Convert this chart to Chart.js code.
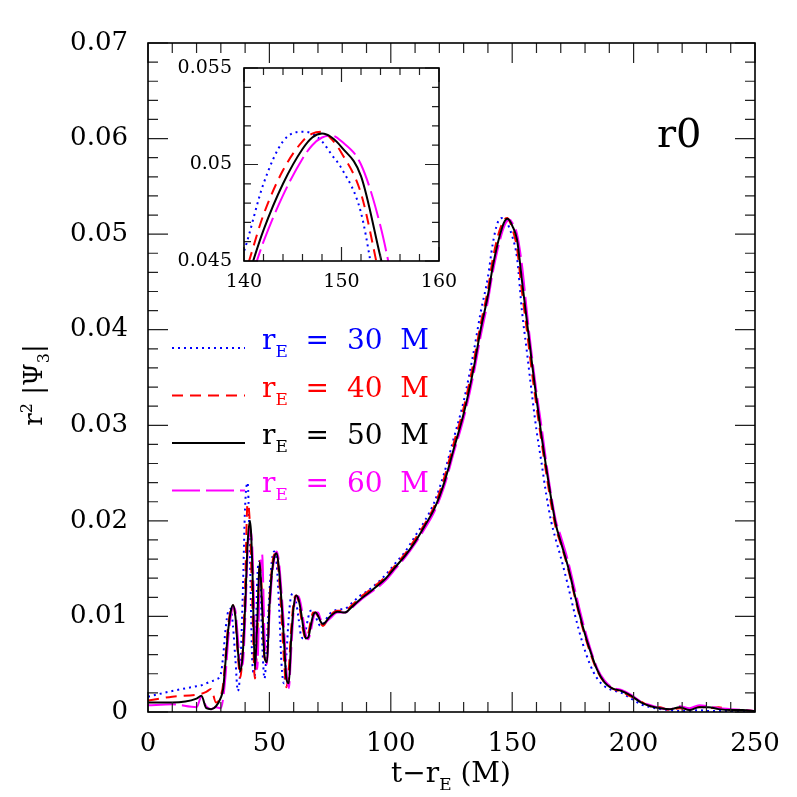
<!DOCTYPE html>
<html>
<head>
<meta charset="utf-8">
<script src="https://cdn.jsdelivr.net/npm/chart.js@4.4.1/dist/chart.umd.min.js"></script>
<style>
  body { margin: 0; background: #fff; }
  #wrap { position: relative; width: 797px; height: 797px; }
  #wrap canvas, #wrap svg { position: absolute; left: 0; top: 0; }
  svg text { font-family: "DejaVu Serif", serif; white-space: pre; }
</style>
</head>
<body>
<div id="wrap">
  <canvas id="mainChart" width="797" height="797"></canvas>
  <canvas id="insetChart" width="797" height="797"></canvas>
  <svg id="labels" width="797" height="797"></svg>
</div>
<script>
// time after extraction, t - r_E (M)
const tGrid = [0, 10, 20, 22, 24, 26, 28, 30,
  31, 32, 33, 34, 35, 36, 37, 38, 39, 40,
  41, 42, 43, 44, 45, 46, 47, 48, 49, 50,
  51, 52, 53, 54, 55, 56, 57, 58, 59, 60,
  61, 62, 63, 64, 65, 66, 67, 68, 69, 70,
  71, 72, 75, 78, 81, 84, 87, 90, 94, 98,
  102, 106, 110, 114, 118, 122, 126, 130, 134, 137,
  140, 142, 144, 146, 147, 148, 149, 150, 152, 154,
  156, 158, 160, 162, 164, 166, 168, 170, 173, 176,
  179, 182, 185, 188, 191, 195, 199, 203, 207, 211,
  215, 219, 223, 227, 231, 235, 240, 245, 250];

// r^2 |Psi_3| for each extraction radius
const psi30 = [0.0016, 0.0022, 0.0027, 0.0028, 0.0030, 0.0032, 0.0034, 0.0040,
  0.0060, 0.0088, 0.0105, 0.0108, 0.0090, 0.0055, 0.0022, 0.0045, 0.0120, 0.0215,
  0.0240, 0.0160, 0.0050, 0.0038, 0.0140, 0.0158, 0.0075, 0.0035, 0.0075, 0.0125,
  0.0158, 0.0168, 0.0155, 0.0110, 0.0050, 0.0030, 0.0060, 0.0100, 0.0122, 0.0124,
  0.0115, 0.0098, 0.0080, 0.0077, 0.0086, 0.0099, 0.0106, 0.0106, 0.0100, 0.0094,
  0.0090, 0.0092, 0.0103, 0.0107, 0.0108, 0.0114, 0.0121, 0.0126, 0.0134, 0.0144,
  0.0156, 0.0168, 0.0184, 0.0200, 0.0220, 0.0250, 0.0287, 0.0325, 0.0375, 0.0418,
  0.0455, 0.0490, 0.0512, 0.0517, 0.0516, 0.0512, 0.0505, 0.0498, 0.0475, 0.0420,
  0.0378, 0.0335, 0.0295, 0.0262, 0.0228, 0.0200, 0.0180, 0.0162, 0.0132, 0.0100,
  0.0072, 0.0050, 0.0035, 0.0027, 0.0023, 0.0020, 0.0014, 0.0008, 0.0005, 0.0003,
  0.0002, 0.0001, 0.0001, 0.0002, 0.0001, 0.0001, 0.0001, 0.0001, 0.0001];

const psi40 = [0.0012, 0.0016, 0.0018, 0.0019, 0.0021, 0.0024, 0.0010, 0.0017,
  0.0030, 0.0060, 0.0090, 0.0106, 0.0112, 0.0098, 0.0060, 0.0036, 0.0065, 0.0130,
  0.0218, 0.0195, 0.0110, 0.0035, 0.0075, 0.0158, 0.0120, 0.0055, 0.0055, 0.0115,
  0.0150, 0.0165, 0.0165, 0.0140, 0.0100, 0.0055, 0.0026, 0.0045, 0.0088, 0.0115,
  0.0122, 0.0116, 0.0100, 0.0084, 0.0077, 0.0082, 0.0095, 0.0104, 0.0104, 0.0100,
  0.0094, 0.0090, 0.0101, 0.0106, 0.0106, 0.0112, 0.0119, 0.0125, 0.0133, 0.0142,
  0.0154, 0.0166, 0.0181, 0.0197, 0.0216, 0.0245, 0.0282, 0.0318, 0.0365, 0.0406,
  0.0442, 0.0474, 0.0497, 0.0512, 0.0516, 0.0517, 0.0513, 0.0506, 0.0485, 0.0440,
  0.0400, 0.0358, 0.0320, 0.0284, 0.0250, 0.0218, 0.0192, 0.0176, 0.0150, 0.0118,
  0.0088, 0.0063, 0.0043, 0.0031, 0.0025, 0.0021, 0.0016, 0.0011, 0.0006, 0.0005,
  0.0002, 0.0004, 0.0003, 0.0006, 0.0004, 0.0005, 0.0002, 0.0002, 0.0001];

const psi50 = [0.0010, 0.0010, 0.0014, 0.0017, 0.0004, 0.0003, 0.0006, 0.0015,
  0.0025, 0.0055, 0.0085, 0.0104, 0.0112, 0.0100, 0.0065, 0.0043, 0.0060, 0.0110,
  0.0175, 0.0200, 0.0150, 0.0045, 0.0095, 0.0157, 0.0110, 0.0058, 0.0052, 0.0110,
  0.0145, 0.0162, 0.0166, 0.0148, 0.0115, 0.0075, 0.0035, 0.0030, 0.0078, 0.0110,
  0.0122, 0.0118, 0.0105, 0.0088, 0.0077, 0.0078, 0.0090, 0.0101, 0.0104, 0.0101,
  0.0095, 0.0092, 0.0100, 0.0105, 0.0104, 0.0110, 0.0117, 0.0123, 0.0131, 0.0140,
  0.0152, 0.0164, 0.0178, 0.0195, 0.0213, 0.0240, 0.0276, 0.0312, 0.0358, 0.0400,
  0.0436, 0.0466, 0.0490, 0.0508, 0.0514, 0.0516, 0.0514, 0.0509, 0.0494, 0.0452,
  0.0410, 0.0368, 0.0328, 0.0290, 0.0256, 0.0224, 0.0196, 0.0178, 0.0152, 0.0120,
  0.0090, 0.0065, 0.0044, 0.0031, 0.0025, 0.0022, 0.0017, 0.0010, 0.0006, 0.0004,
  0.0003, 0.0005, 0.0002, 0.0005, 0.0005, 0.0003, 0.0002, 0.0002, 0.0001];

const psi60 = [0.0007, 0.0008, 0.0005, 0.0016, 0.0006, 0.0003, 0.0005, 0.0004,
  0.0015, 0.0040, 0.0075, 0.0098, 0.0110, 0.0106, 0.0078, 0.0048, 0.0050, 0.0095,
  0.0165, 0.0192, 0.0170, 0.0085, 0.0045, 0.0135, 0.0165, 0.0080, 0.0050, 0.0100,
  0.0140, 0.0160, 0.0168, 0.0156, 0.0125, 0.0090, 0.0045, 0.0025, 0.0065, 0.0105,
  0.0120, 0.0121, 0.0112, 0.0096, 0.0081, 0.0076, 0.0084, 0.0097, 0.0104, 0.0104,
  0.0098, 0.0092, 0.0098, 0.0104, 0.0104, 0.0109, 0.0116, 0.0122, 0.0129, 0.0138,
  0.0150, 0.0162, 0.0176, 0.0192, 0.0210, 0.0236, 0.0272, 0.0307, 0.0352, 0.0393,
  0.0430, 0.0460, 0.0484, 0.0503, 0.0510, 0.0514, 0.0515, 0.0512, 0.0500, 0.0468,
  0.0420, 0.0375, 0.0335, 0.0300, 0.0262, 0.0228, 0.0200, 0.0184, 0.0158, 0.0126,
  0.0095, 0.0068, 0.0046, 0.0033, 0.0026, 0.0023, 0.0018, 0.0011, 0.0007, 0.0004,
  0.0003, 0.0006, 0.0004, 0.0007, 0.0006, 0.0004, 0.0003, 0.0002, 0.0001];

const radii = ["30", "40", "50", "60"];
const seriesValues = [psi30, psi40, psi50, psi60];

// tick labels
const xTicksMain = [0, 50, 100, 150, 200, 250];
const yTicksMain = [0, 0.01, 0.02, 0.03, 0.04, 0.05, 0.06, 0.07];
const xTicksInset = [140, 150, 160];
const yTicksInset = [0.045, 0.05, 0.055];

// styles
const colors = ["#0000ff", "#ff0000", "#000000", "#ff00ff"];
const dashes = [[2, 4], [11, 7], [], [28, 6]];
const drawOrder = [3, 2, 0, 1];

Chart.defaults.font.family = "'DejaVu Serif', serif";
Chart.defaults.color = "#000";

// frame with inward ticks on all four sides
const frameTicks = {
    id: "frameTicks",
    afterDatasetsDraw(chart, args, opts) {
        const ctx = chart.ctx;
        const a = chart.chartArea;
        const xs = chart.scales.x, ys = chart.scales.y;
        ctx.save();
        ctx.strokeStyle = "#222";
        ctx.lineWidth = 1.2;
        let n = Math.round((xs.max - xs.min) / opts.xMinor);
        for (let i = 0; i <= n; i++) {
            let v = xs.min + i * opts.xMinor;
            let r = v / opts.xMajor;
            let len = Math.abs(r - Math.round(r)) < 1e-6 ? opts.majorLen : opts.minorLen;
            let px = xs.getPixelForValue(v);
            ctx.beginPath();
            ctx.moveTo(px, a.bottom); ctx.lineTo(px, a.bottom - len);
            ctx.moveTo(px, a.top); ctx.lineTo(px, a.top + len);
            ctx.stroke();
        }
        n = Math.round((ys.max - ys.min) / opts.yMinor);
        for (let i = 0; i <= n; i++) {
            let v = ys.min + i * opts.yMinor;
            let r = v / opts.yMajor;
            let len = Math.abs(r - Math.round(r)) < 1e-6 ? opts.majorLen : opts.minorLen;
            let py = ys.getPixelForValue(v);
            ctx.beginPath();
            ctx.moveTo(a.left, py); ctx.lineTo(a.left + len, py);
            ctx.moveTo(a.right, py); ctx.lineTo(a.right - len, py);
            ctx.stroke();
        }
        ctx.strokeStyle = "#000";
        ctx.lineWidth = 1.6;
        ctx.strokeRect(a.left, a.top, a.right - a.left, a.bottom - a.top);
        ctx.restore();
    }
};

function makeDatasets() {
    return seriesValues.map((vals, k) => ({
        label: "r_E = " + radii[k] + " M",
        data: tGrid.map((t, i) => ({ x: t, y: vals[i] })),
        borderColor: colors[k],
        borderDash: dashes[k],
        borderWidth: 2,
        order: drawOrder[k],
        pointRadius: 0,
        fill: false,
        cubicInterpolationMode: "monotone"
    }));
}

function fmt(digits) {
    return v => String(parseFloat(v.toFixed(digits)));
}

// Main chart
new Chart(document.getElementById("mainChart"), {
    type: "line",
    data: { datasets: makeDatasets() },
    options: {
        responsive: false,
        animation: false,
        layout: { padding: { top: 43, right: 42, left: 0, bottom: 0 } },
        plugins: {
            legend: { display: false },
            tooltip: { enabled: false },
            frameTicks: { xMinor: 10, xMajor: 50, yMinor: 0.002, yMajor: 0.01, minorLen: 10, majorLen: 20 }
        },
        scales: {
            x: {
                type: "linear", min: 0, max: 250,
                afterBuildTicks: s => { s.ticks = xTicksMain.map(v => ({ value: v })); },
                afterFit: s => { s.height = 85; },
                grid: { display: false, drawTicks: false },
                border: { display: false },
                ticks: { font: { size: 26 }, padding: 17, maxRotation: 0, callback: fmt(0) }
            },
            y: {
                type: "linear", min: 0, max: 0.07,
                afterBuildTicks: s => { s.ticks = yTicksMain.map(v => ({ value: v })); },
                afterFit: s => { s.width = 148; },
                grid: { display: false, drawTicks: false },
                border: { display: false },
                ticks: { font: { size: 26 }, padding: 20, callback: fmt(2) }
            }
        }
    },
    plugins: [frameTicks]
});

// Inset: zoom on the peak
new Chart(document.getElementById("insetChart"), {
    type: "line",
    data: { datasets: makeDatasets() },
    options: {
        responsive: false,
        animation: false,
        layout: { padding: { top: 68, right: 358, left: 0, bottom: 0 } },
        plugins: {
            legend: { display: false },
            tooltip: { enabled: false },
            frameTicks: { xMinor: 2, xMajor: 10, yMinor: 0.001, yMajor: 0.005, minorLen: 7, majorLen: 14 }
        },
        scales: {
            x: {
                type: "linear", min: 140, max: 160,
                afterBuildTicks: s => { s.ticks = xTicksInset.map(v => ({ value: v })); },
                afterFit: s => { s.height = 536; },
                grid: { display: false, drawTicks: false },
                border: { display: false },
                ticks: { font: { size: 19 }, padding: 10, maxRotation: 0, callback: fmt(0) }
            },
            y: {
                type: "linear", min: 0.045, max: 0.055,
                afterBuildTicks: s => { s.ticks = yTicksInset.map(v => ({ value: v })); },
                afterFit: s => { s.width = 244; },
                grid: { display: false, drawTicks: false },
                border: { display: false },
                ticks: { font: { size: 19 }, padding: 12, callback: fmt(3) }
            }
        }
    },
    plugins: [frameTicks]
});

// Legend, axis titles and run label
let svg = "";
radii.forEach((r, k) => {
    let y = 348 + k * 47.5;
    svg += `<line x1="172" x2="245" y1="${y}" y2="${y}" stroke="${colors[k]}" stroke-width="2" stroke-dasharray="${dashes[k].join(" ") || "none"}"/>`;
    svg += `<text x="262" y="${y + 1}" font-size="28" fill="${colors[k]}">r<tspan dy="8" font-size="17">E</tspan><tspan dy="-8">  =  ${r}  M</tspan></text>`;
});
svg += `<text x="451" y="782" font-size="28" text-anchor="middle">t\u2212r<tspan dy="8" font-size="17">E</tspan><tspan dy="-8"> (M)</tspan></text>`;
svg += `<text transform="translate(42,385) rotate(-90)" font-size="26" text-anchor="middle">r<tspan dy="-10" font-size="16">2</tspan><tspan dy="10"> |\u03A8</tspan><tspan dy="7" font-size="16">3</tspan><tspan dy="-7">|</tspan></text>`;
svg += `<text x="657" y="147" font-size="40">r0</text>`;
document.getElementById("labels").innerHTML = svg;
</script>
</body>
</html>
